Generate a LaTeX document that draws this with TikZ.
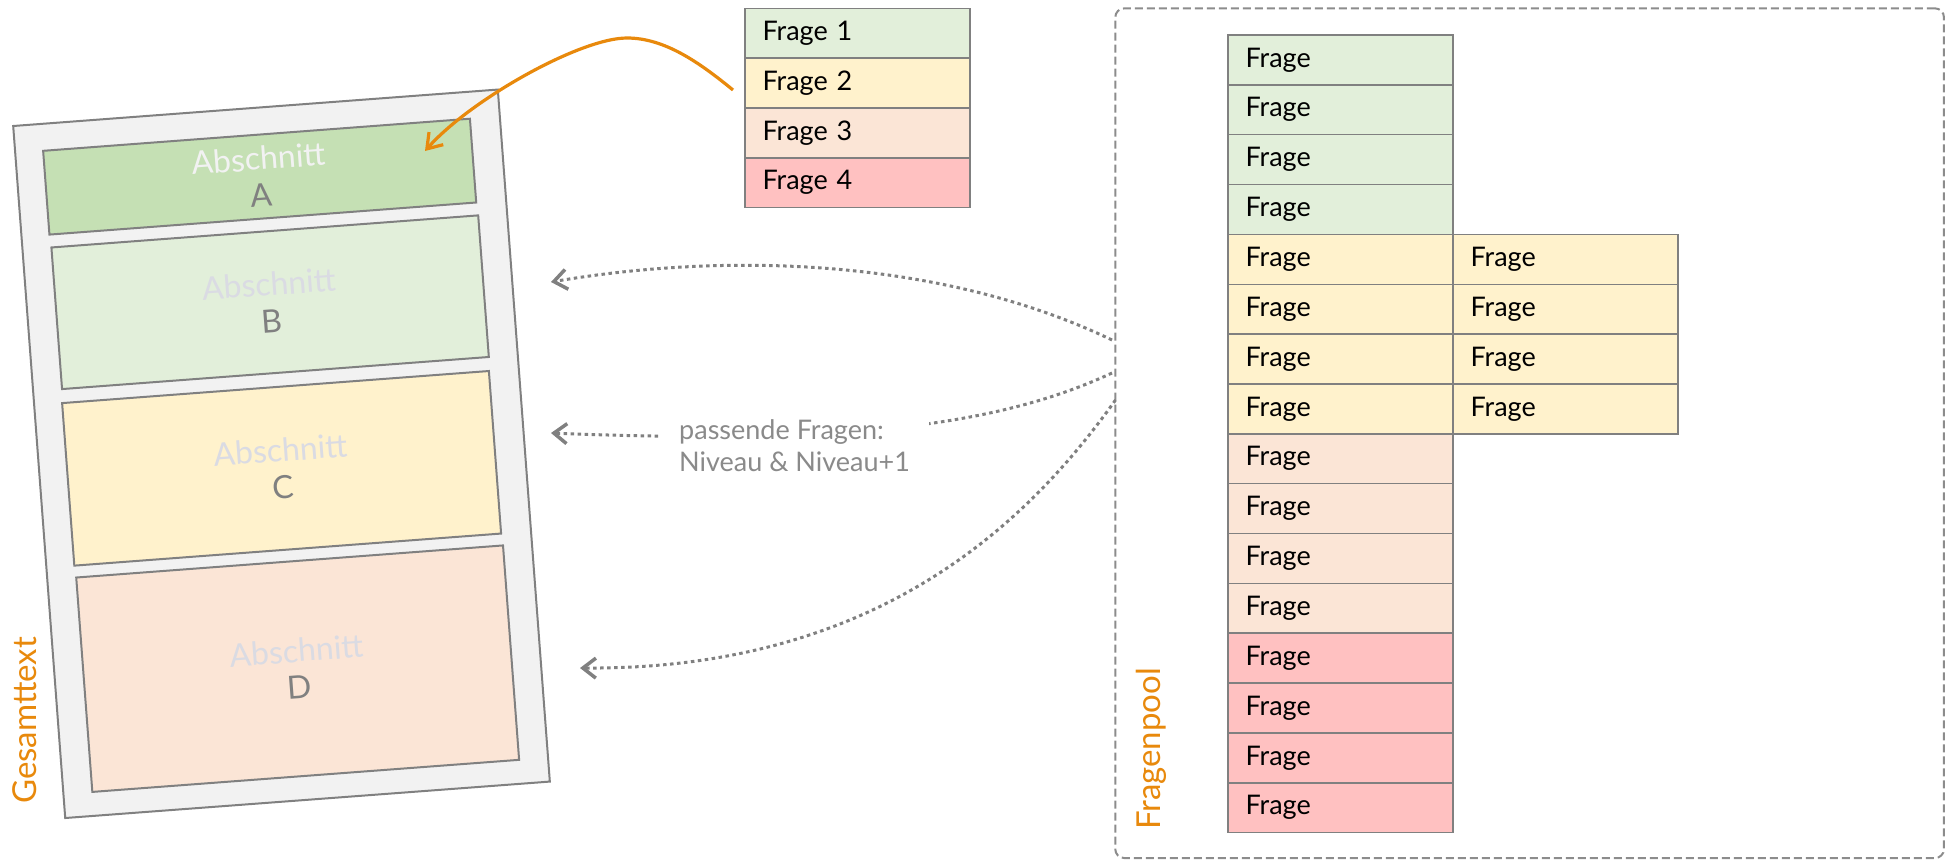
\documentclass[tikz,border=0pt]{standalone}
\usepackage{fontspec}
\setmainfont{Lato}
\usetikzlibrary{arrows.meta,calc}
\definecolor{linegray}{HTML}{808080}
\definecolor{dashgray}{HTML}{8C8C8C}
\definecolor{outerfill}{HTML}{F2F2F2}
\definecolor{cgreenA}{HTML}{C5E0B4}
\definecolor{cgreen}{HTML}{E2EFDA}
\definecolor{cyellow}{HTML}{FFF2CC}
\definecolor{cpeach}{HTML}{FBE5D6}
\definecolor{cpink}{HTML}{FFC1C1}
\definecolor{absA}{HTML}{F2F2F2}
\definecolor{absB}{HTML}{DADBE3}
\definecolor{corange}{HTML}{E8890C}
\definecolor{labelgray}{HTML}{8A8A8A}
\begin{document}
\begin{tikzpicture}[x=1pt,y=-1pt,
  outerbox/.style={draw=linegray, line width=2pt, fill=outerfill, inner sep=0pt},
  secbox/.style={draw=linegray, line width=2pt, inner sep=0pt, align=center,
    font=\fontsize{32}{37}\selectfont, text=linegray},
  frow/.style={draw=linegray, line width=1.5pt, minimum height=49.85pt,
    text width=190pt, inner xsep=17.5pt, inner ysep=0pt, align=left,
    font=\fontsize{27}{30}\selectfont, text=black},
  poolbox/.style={draw=dashgray, line width=2pt, dash pattern=on 8pt off 4pt,
    rounded corners=9pt, inner sep=0pt},
  sidelabel/.style={rotate=90, anchor=base west, inner sep=0pt, text=corange,
    font=\fontsize{33}{36}\selectfont},
  dotarrow/.style={draw=linegray, line width=3pt, dash pattern=on 3.5pt off 3.5pt,
    -{Straight Barb[length=13pt,width=20pt,line width=3.5pt]}},
  orangearrow/.style={draw=corange, line width=3.2pt,
    -{Straight Barb[length=14pt,width=19pt,line width=3.2pt]}},
  arrowlabel/.style={fill=white, inner xsep=19pt, inner ysep=6pt, align=left,
    text=labelgray, font=\fontsize{27}{32.3}\selectfont}
]
\useasboundingbox (0,0) rectangle (1948,860);

% Gesamttext
\begin{scope}[shift={(13.2,126)}, rotate=4.3, transform shape]
  \node[outerbox, minimum width=486pt, minimum height=694pt] (gesamt) at (243,347) {};
  \node[secbox, fill=cgreenA, minimum width=428pt, minimum height=84pt] (secA) at (242,69)
    {\textcolor{absA}{Abschnitt}\\A};
  \node[secbox, fill=cgreen, minimum width=428pt, minimum height=142pt] (secB) at (243,195)
    {\textcolor{absB}{Abschnitt}\\B};
  \node[secbox, fill=cyellow, minimum width=428pt, minimum height=163pt] (secC) at (242,361.5)
    {\textcolor{absB}{Abschnitt}\\C};
  \node[secbox, fill=cpeach, minimum width=428pt, minimum height=215pt] (secD) at (243,562.5)
    {\textcolor{absB}{Abschnitt}\\D};
\end{scope}
\node[sidelabel] (lblG) at (36,804) {Gesamttext};

% top question list
\node[frow, fill=cgreen]  (f1) at (857.5, {8.3+0.5*49.85}) {Frage 1};
\node[frow, fill=cyellow] (f2) at (857.5, {8.3+1.5*49.85}) {Frage 2};
\node[frow, fill=cpeach]  (f3) at (857.5, {8.3+2.5*49.85}) {Frage 3};
\node[frow, fill=cpink]   (f4) at (857.5, {8.3+3.5*49.85}) {Frage 4};

% question pool
\node[poolbox, minimum width=828.7pt, minimum height=849.7pt] (pool) at (1529.6,433.2) {};
\node[sidelabel] (lblP) at (1160,830) {Fragenpool};
\foreach \i/\c in {1/cgreen,2/cgreen,3/cgreen,4/cgreen,5/cyellow,6/cyellow,7/cyellow,8/cyellow,
                   9/cpeach,10/cpeach,11/cpeach,12/cpeach,13/cpink,14/cpink,15/cpink,16/cpink}
  \node[frow, fill=\c] (p\i) at (1340.5, {35+(\i-0.5)*49.85}) {Frage};
\foreach \i in {5,6,7,8}
  \node[frow, fill=cyellow] (q\i) at (1565.5, {35+(\i-0.5)*49.85}) {Frage};

% connectors
\coordinate (s1) at (1112,340);
\coordinate (s2) at (1112,373);
\coordinate (s3) at (1115.5,400);
\coordinate (t1) at (551,282);
\coordinate (t2) at (551,433);
\coordinate (t3) at (580,668);
\coordinate (o1) at (733,90);
\coordinate (opeak) at (627,38);
\coordinate (o2) at (425,151);

\draw[dotarrow] (s1) .. controls (950,262) and (740,250) .. (t1);
\draw[dotarrow] (s2) .. controls (1000,425) and (850,445) .. (t2);
\draw[dotarrow] (s3) .. controls (1030,520) and (880,670) .. (t3);
\node[arrowlabel, anchor=west] (lbl) at (660,446) {passende Fragen:\\Niveau \& Niveau+1};

\draw[orangearrow] (o1) .. controls (700,63) and (665,38) .. (opeak) .. controls (580,38) and (470,100) .. (o2);
\end{tikzpicture}
\end{document}
